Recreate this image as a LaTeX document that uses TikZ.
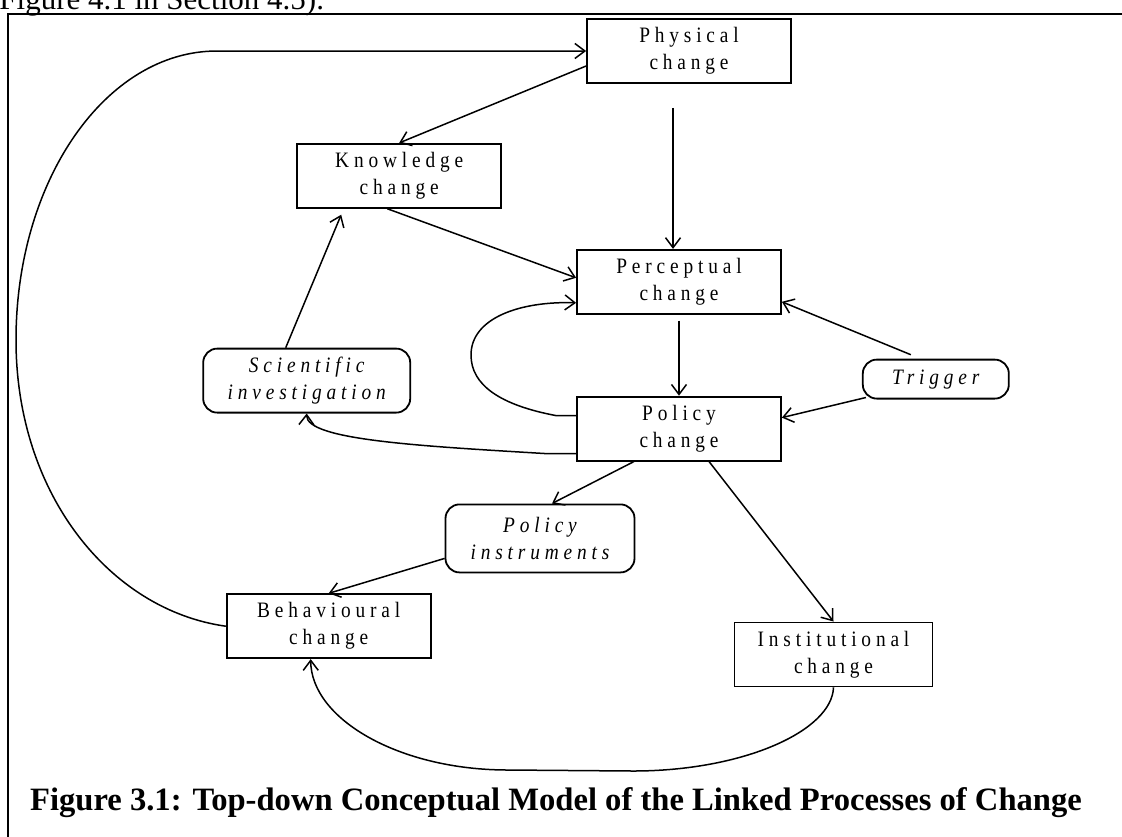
\documentclass[tikz,border=0pt]{standalone}
\usepackage{fontspec}
\setmainfont{Liberation Serif}
\newfontfamily\boxfont[LetterSpace=22, FakeStretch=0.88]{Liberation Serif}
\usetikzlibrary{positioning, arrows.meta}
\newcommand{\boxtext}{\boxfont\fontsize{11}{13.5}\selectfont}

\begin{document}
\begin{tikzpicture}[
    x=0.5pt, y=-0.5pt,
    box/.style={draw=black, line width=0.9pt, rectangle, minimum width=102pt, minimum height=32pt, inner sep=0pt, align=center, font=\boxtext, fill=white},
    softbox/.style={box, rounded corners=7pt, font=\boxtext\itshape},
    link/.style={line width=0.75pt, -{Straight Barb[length=5pt, width=7.5pt]}},
    frame/.style={line width=1pt}
]
\clip (0,0) rectangle (1122,836);

% Rahmen und Beschriftung
\draw[frame] (8,850) |- (1130,14);
\node[anchor=base west, inner sep=0pt, font=\fontsize{15.5}{19}\selectfont] (prevtext) at (-1,9) {Figure 4.1 in Section 4.5).};
\node[anchor=base, inner sep=0pt, font=\fontsize{16.3}{19}\selectfont\bfseries] (caption) at (556,810) {Figure 3.1: Top-down Conceptual Model of the Linked Processes of Change};

% Knoten
\node[box] (phys) at (689,51) {Physical\\change};
\node[box, below left=29.5pt and 42pt of phys] (know) {Knowledge\\change};
\node[box, below=82.5pt of phys, xshift=-5pt] (perc) {Perceptual\\change};
\node[box, below=40.5pt of perc] (pol) {Policy\\change};
\node[softbox, minimum width=103.5pt, left=82.5pt of pol, yshift=24pt] (sci) {Scientific\\investigation};
\node[softbox, minimum width=73pt, minimum height=19.5pt, right=40pt of pol, yshift=24.75pt] (trig) {Trigger};
\node[softbox, minimum width=94.5pt, minimum height=34pt, below=21pt of pol, xshift=-69.5pt] (instr) {Policy\\instruments};
\node[box, below left=10pt and 6.5pt of instr] (behav) {Behavioural\\change};
\node[box, minimum width=99pt, below=80pt of pol, xshift=77.25pt] (inst) {Institutional\\change};

% Kanten
\coordinate (physout) at ([xshift=-8pt, yshift=-12pt]phys.south);
\draw[link] (physout) -- (physout |- perc.north);
\draw[link] ([yshift=-7.5pt]phys.west) -- (know.north);
\draw[link] ([xshift=-6pt]know.south) -- ([yshift=2pt]perc.west);
\draw[link] ([xshift=-10.5pt]sci.north) -- ([xshift=-29pt, yshift=-3pt]know.south);
\coordinate (percout) at ([yshift=-3pt]perc.south);
\draw[link] (percout) -- (percout |- pol.north);
\draw[link] ([xshift=-12.5pt, yshift=2pt]trig.north) -- ([yshift=-10pt]perc.east);
\draw[link] ([xshift=2pt, yshift=1pt]trig.south west) -- ([yshift=5.5pt]pol.east);
\draw[link] ([xshift=-22.5pt]pol.south) -- ([xshift=6pt]instr.north);
\draw[link] ([xshift=15pt]pol.south) -- (inst.north);
\draw[link] ([yshift=-10pt]instr.west) -- (behav.north);

% Schleifen
\draw[link] ([yshift=6.5pt]pol.west) -- ++(-20,0) .. controls (500,405) and (471,385) .. (471,355) .. controls (471,318) and (520,301) .. ([yshift=-10.5pt]perc.west);
\draw[link] ([yshift=-12.5pt]pol.west) -- ++(-30,0) .. controls (420,446) and (306,440) .. (sci.south);
\draw[link] (behav.west) .. controls (110,610) and (16,494) .. (16,340) .. controls (16,180) and (106,51) .. (217,51) -- (phys.west);
\draw[link] (inst.south) .. controls (832,731) and (743,771) .. (633,771) -- (508,770) .. controls (399,770) and (311,719) .. ([xshift=-9pt]behav.south);

\end{tikzpicture}
\end{document}
